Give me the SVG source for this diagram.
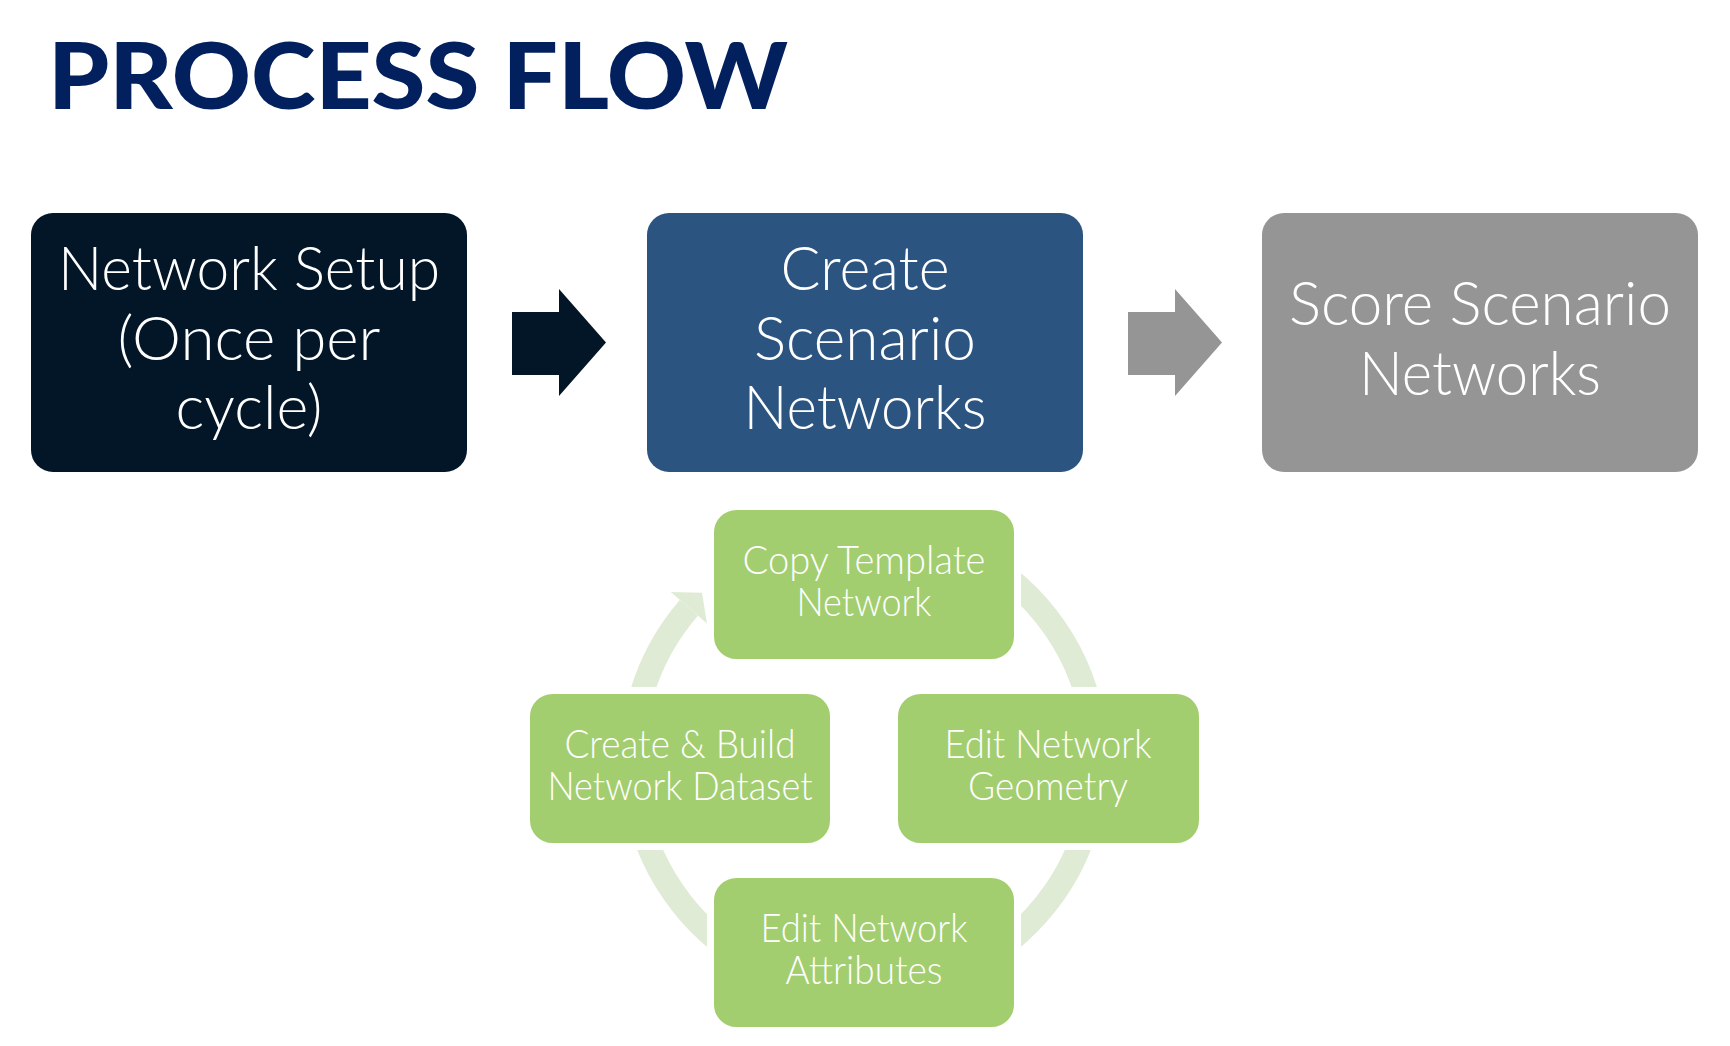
<svg xmlns="http://www.w3.org/2000/svg" width="1730" height="1046" viewBox="0 0 1730 1046">
  <style>
    .title { font-family: Lato, "Liberation Sans", sans-serif; font-weight: 900; font-size: 92px; fill: #03205E; }
    .big { font-family: Lato, "Liberation Sans", sans-serif; font-weight: 300; font-size: 62px; fill: #FFFFFF; text-anchor: middle; }
    .small { font-family: Lato, "Liberation Sans", sans-serif; font-weight: 300; font-size: 40px; fill: #FFFFFF; text-anchor: middle; }
    .green { fill: #A3CE70; stroke: #FFFFFF; stroke-width: 7; }
    .ring { fill: none; stroke: #DFEBD4; stroke-width: 24; }
  </style>
  <rect width="1730" height="1046" fill="#FFFFFF"/>
  <text class="title" x="48" y="109" textLength="740" lengthAdjust="spacingAndGlyphs">PROCESS FLOW</text>

  <g id="connectors">
    <polygon id="arrow1" points="512,312 559,312 559,289 606,342.5 559,396 559,375 512,375" fill="#021628"/>
    <polygon id="arrow2" points="1128,312 1175,312 1175,289 1222,342.5 1175,396 1175,375 1128,375" fill="#959595"/>
    <path id="cycle" class="ring" d="M 864 528 A 232 232 0 1 1 688.9 607.8"/>
    <polygon id="cycle-head" points="670.8,592.1 702,592.7 707,623.5" fill="#DFEBD4"/>
  </g>

  <g id="node-setup">
    <rect x="31" y="213" width="436" height="259" rx="22" fill="#021628"/>
    <text class="big" x="249" y="290" textLength="382" lengthAdjust="spacingAndGlyphs">Network Setup</text>
    <text class="big" x="249" y="360" textLength="263" lengthAdjust="spacingAndGlyphs">(Once per</text>
    <text class="big" x="249" y="429" textLength="147" lengthAdjust="spacingAndGlyphs">cycle)</text>
  </g>
  <g id="node-create">
    <rect x="647" y="213" width="436" height="259" rx="22" fill="#2C5481"/>
    <text class="big" x="865" y="290" textLength="169" lengthAdjust="spacingAndGlyphs">Create</text>
    <text class="big" x="865" y="360" textLength="222" lengthAdjust="spacingAndGlyphs">Scenario</text>
    <text class="big" x="865" y="429" textLength="243" lengthAdjust="spacingAndGlyphs">Networks</text>
  </g>
  <g id="node-score">
    <rect x="1262" y="213" width="436" height="259" rx="22" fill="#959595"/>
    <text class="big" x="1480" y="325" textLength="382" lengthAdjust="spacingAndGlyphs">Score Scenario</text>
    <text class="big" x="1480" y="395" textLength="242" lengthAdjust="spacingAndGlyphs">Networks</text>
  </g>

  <g id="node-copy">
    <rect class="green" x="710.5" y="506.5" width="307" height="156" rx="26"/>
    <text class="small" x="864" y="574" textLength="243" lengthAdjust="spacingAndGlyphs">Copy Template</text>
    <text class="small" x="864" y="616" textLength="135" lengthAdjust="spacingAndGlyphs">Network</text>
  </g>
  <g id="node-geometry">
    <rect class="green" x="894.5" y="690.5" width="308" height="156" rx="26"/>
    <text class="small" x="1048" y="758" textLength="207" lengthAdjust="spacingAndGlyphs">Edit Network</text>
    <text class="small" x="1048" y="800" textLength="160" lengthAdjust="spacingAndGlyphs">Geometry</text>
  </g>
  <g id="node-attributes">
    <rect class="green" x="710.5" y="874.5" width="307" height="156" rx="26"/>
    <text class="small" x="864" y="942" textLength="207" lengthAdjust="spacingAndGlyphs">Edit Network</text>
    <text class="small" x="864" y="984" textLength="157" lengthAdjust="spacingAndGlyphs">Attributes</text>
  </g>
  <g id="node-dataset">
    <rect class="green" x="526.5" y="690.5" width="307" height="156" rx="26"/>
    <text class="small" x="680" y="758" textLength="231" lengthAdjust="spacingAndGlyphs">Create &amp; Build</text>
    <text class="small" x="680" y="800" textLength="265" lengthAdjust="spacingAndGlyphs">Network Dataset</text>
  </g>
</svg>
